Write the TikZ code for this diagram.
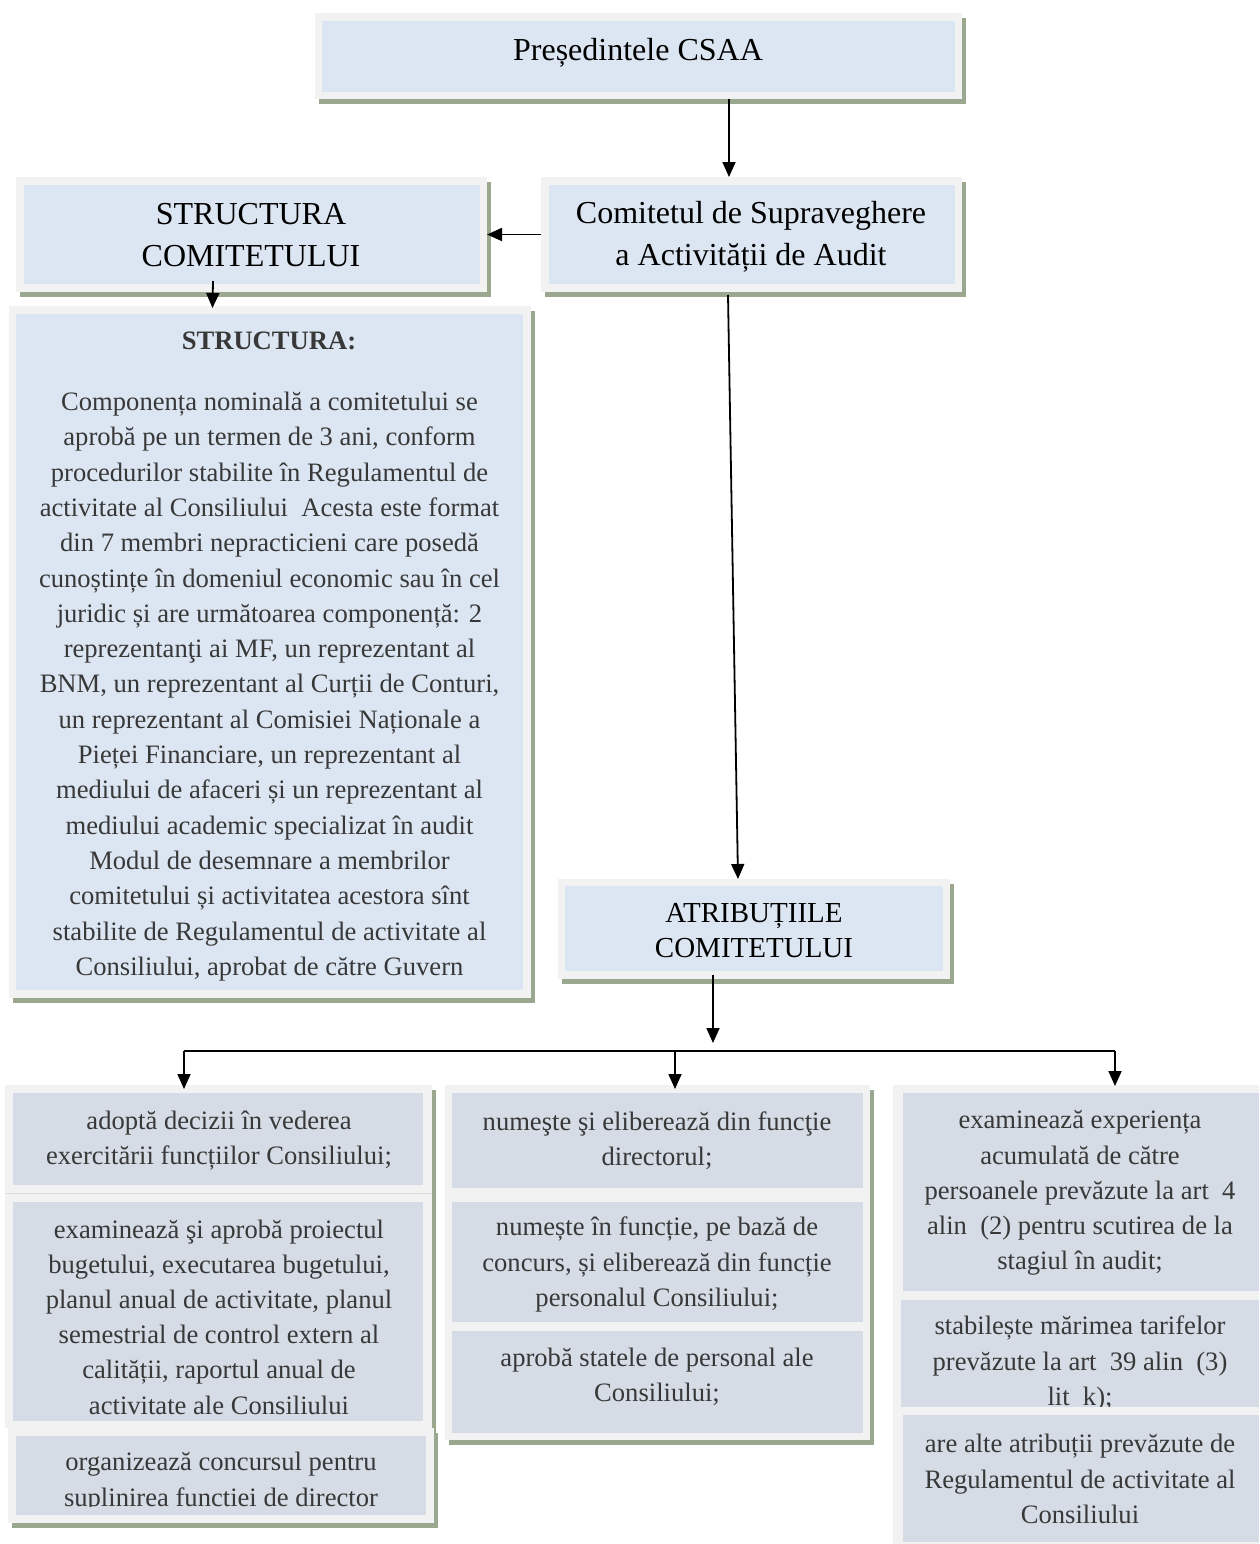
\documentclass[tikz,border=0pt]{standalone}
\usepackage{fontspec}
\setmainfont{Liberation Serif}
\usetikzlibrary{arrows.meta,fit,shadows}

\definecolor{framec}{HTML}{F2F2F2}
\definecolor{shadowc}{HTML}{9BA890}
\definecolor{upfill}{HTML}{DCE6F2}
\definecolor{lowfill}{HTML}{D5DCE5}
\definecolor{inkgrey}{HTML}{383838}
\definecolor{seamc}{HTML}{DEDEDE}

\tikzset{
  panel/.style={fill=framec, inner sep=0pt, outer sep=0pt,
    drop shadow={shadow xshift=4pt, shadow yshift=-5pt, fill=shadowc, opacity=1}},
  flatpanel/.style={fill=framec, inner sep=0pt, outer sep=0pt},
  upcell/.style={fill=upfill, inner sep=0pt, outer sep=0pt},
  lowcell/.style={fill=lowfill, inner sep=0pt, outer sep=0pt},
  headtxt/.style={inner sep=0pt, align=center, font=\fontsize{32}{42}\selectfont},
  bodytxt/.style={inner sep=0pt, align=center, text=inkgrey, font=\fontsize{26.6}{35.2}\selectfont},
  arr/.style={line width=1.8pt, -{Triangle[width=13pt,length=15pt]}},
  wire/.style={line width=1.8pt},
}

\begin{document}
\begin{tikzpicture}[x=1pt,y=-1pt]
\useasboundingbox[fill=white] (0,0) rectangle (1259,1544);

% ---------- upper level ----------
\node[panel, fit={(315,13) (962,99)}] (pres) {};
\node[upcell, fit={(322,21) (955,92)}] (presin) {};
\node[headtxt] (prestxt) at (638,53) {Președintele CSAA};

\node[panel, fit={(16,177) (487,292)}] (struct) {};
\node[upcell, fit={(24,185) (480,284)}] (structin) {};
\node[headtxt] (structtxt) at (251,235) {STRUCTURA\\COMITETULUI};

\node[panel, fit={(541,177) (962,292)}] (csaa) {};
\node[upcell, fit={(549,185) (955,284)}] (csaain) {};
\node[headtxt] (csaatxt) at (751,237) {Comitetul de Supraveghere\\a Activității de Audit};

% ---------- structure description ----------
\node[panel, fit={(9,306) (531,998)}] (descr) {};
\node[upcell, fit={(16,314) (523,990)}] (descrin) {};
\node[bodytxt, font=\fontsize{26.6}{35.2}\selectfont\bfseries] (descrhead) at (269,341) {STRUCTURA:};
\node[bodytxt, font=\fontsize{26.6}{35.3}\selectfont] (descrtxt) at (269.5,686.5) {%
Componența nominală a comitetului se\\
aprobă pe un termen de 3 ani, conform\\
procedurilor stabilite în Regulamentul de\\
activitate al Consiliului~~Acesta este format\\
din 7 membri nepracticieni care posedă\\
cunoștințe în domeniul economic sau în cel\\
juridic și are următoarea componență: 2\\
reprezentanţi ai MF, un reprezentant al\\
BNM, un reprezentant al Curții de Conturi,\\
un reprezentant al Comisiei Naționale a\\
Pieței Financiare, un reprezentant al\\
mediului de afaceri și un reprezentant al\\
mediului academic specializat în audit\\
Modul de desemnare a membrilor\\
comitetului și activitatea acestora sînt\\
stabilite de Regulamentul de activitate al\\
Consiliului, aprobat de către Guvern};

% ---------- duties ----------
\node[panel, fit={(558,879) (950,979)}] (atr) {};
\node[upcell, fit={(565,886) (943,971)}] (atrin) {};
\node[headtxt, font=\fontsize{29}{35}\selectfont] (atrtxt) at (754,931) {ATRIBUȚIILE\\COMITETULUI};

% left column
\node[panel, fit={(5,1085) (432,1428)}] (colA) {};
\draw[seamc, line width=1pt] (colA.west |- 0,1193) -- (colA.east |- 0,1193);
\node[lowcell, fit={(13,1093) (423,1185)}] (a1) {};
\node[lowcell, fit={(13,1202) (423,1421)}] (a2) {};
\node[panel, fit={(8,1428) (434,1523)}] (colAb) {};
\node[lowcell, fit={(16,1436) (426,1515)}] (a3) {};
\node[bodytxt] (a1txt) at (219,1140.5) {adoptă decizii în vederea\\exercitării funcțiilor Consiliului;};
\node[bodytxt] (a2txt) at (219,1317) {examinează şi aprobă proiectul\\bugetului, executarea bugetului,\\planul anual de activitate, planul\\semestrial de control extern al\\calității, raportul anual de\\activitate ale Consiliului};
\begin{scope}
  \clip (16,1436) rectangle (426,1506);
  \node[bodytxt] (a3txt) at (221,1482) {organizează concursul pentru\\suplinirea funcției de director};
\end{scope}

% middle column
\node[panel, fit={(445,1085) (870,1440)}] (colB) {};
\node[lowcell, fit={(452,1093) (863,1188)}] (b1) {};
\node[lowcell, fit={(452,1202) (863,1322)}] (b2) {};
\node[lowcell, fit={(452,1331) (863,1433)}] (b3) {};
\node[bodytxt] (b1txt) at (657,1140.5) {numeşte şi eliberează din funcţie\\directorul;};
\node[bodytxt] (b2txt) at (657,1264.5) {numește în funcție, pe bază de\\concurs, și eliberează din funcție\\personalul Consiliului;};
\node[bodytxt] (b3txt) at (657,1376.5) {aprobă statele de personal ale\\Consiliului;};

% right column
\node[flatpanel, fit={(893,1085) (1259,1544)}] (colC) {};
\node[lowcell, fit={(903,1093) (1259,1291)}] (c1) {};
\node[lowcell, fit={(901,1300) (1259,1407)}] (c2) {};
\node[lowcell, fit={(903,1415) (1259,1542)}] (c3) {};
\node[bodytxt] (c1txt) at (1080,1193) {examinează experiența\\acumulată de către\\persoanele prevăzute la art~~4\\alin~~(2) pentru scutirea de la\\stagiul în audit;};
\begin{scope}
  \clip (901,1300) rectangle (1259,1406);
  \node[bodytxt] (c2txt) at (1080,1363.5) {stabilește mărimea tarifelor\\prevăzute la art~~39 alin~~(3)\\lit~~k);};
\end{scope}
\node[bodytxt] (c3txt) at (1080,1479) {are alte atribuții prevăzute de\\Regulamentul de activitate al\\Consiliului};

% ---------- connectors ----------
\draw[arr] ([xshift=90.5pt]pres.south) -- ([xshift=-22.5pt]csaa.north);
\draw[arr] (csaa.west) -- (struct.east);
\draw[arr] ([xshift=-38.5pt,yshift=11pt]struct.south) -- ([xshift=-57.5pt,yshift=-2pt]descr.north);
\draw[arr] ([xshift=-23.5pt,yshift=-3pt]csaa.south) -- ([xshift=-16pt]atr.north);

\coordinate (busin) at (713,1043);
\coordinate (busL) at (184,1051);
\coordinate (busM) at (675,1051);
\coordinate (busR) at (1115,1051);
\draw[arr] ([xshift=-41pt,yshift=4pt]atr.south) -- (busin);
\draw[wire] (busL) -- (busR);
\draw[arr] (busL) -- ([yshift=-4pt]busL |- colA.north);
\draw[arr] (busM) -- ([yshift=-4pt]busM |- colB.north);
\draw[arr] (busR) -- ([yshift=-1pt]busR |- colC.north);
\end{tikzpicture}
\end{document}
